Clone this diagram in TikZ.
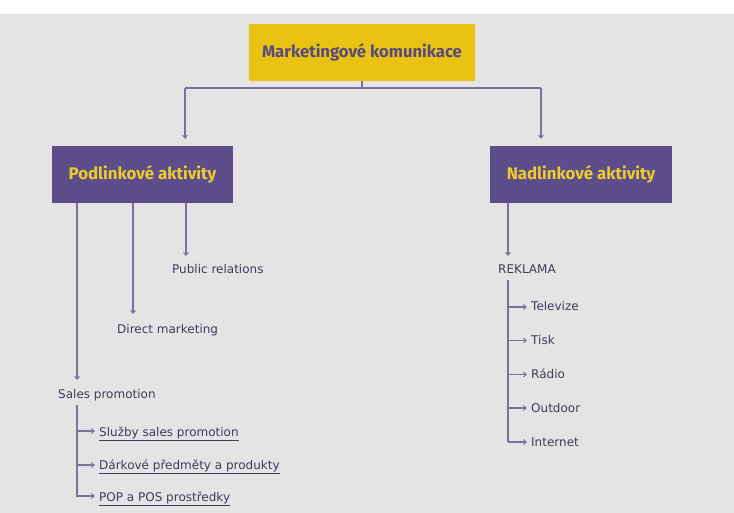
\documentclass[tikz,border=0pt]{standalone}
\usepackage{fontspec}
\setmainfont{DejaVu Sans}
\newfontfamily\headfont{Fira Sans}
\usetikzlibrary{arrows.meta}
\definecolor{bg}{HTML}{E4E4E4}
\definecolor{gold}{HTML}{E8C311}
\definecolor{violet}{HTML}{5E4D8B}
\definecolor{violettext}{HTML}{5A4A7E}
\definecolor{goldtext}{HTML}{EDCB2A}
\definecolor{wire}{HTML}{7D70A0}
\definecolor{labeltext}{HTML}{3E3C5A}
\tikzset{
  topbox/.style={fill=gold, inner sep=0pt, minimum width=226, minimum height=57,
    font=\headfont\bfseries\fontsize{16.7}{20}\selectfont, text=violettext},
  catbox/.style={fill=violet, inner sep=0pt, minimum width=181, minimum height=57,
    font=\headfont\bfseries\fontsize{16.8}{20}\selectfont, text=goldtext},
  lbl/.style={inner sep=0pt, anchor=base west, font=\fontsize{12}{14}\selectfont, text=labeltext},
  wireline/.style={draw=wire, line width=1.2pt},
  arr/.style={wireline, -{Straight Barb[length=3pt, width=5pt, line width=0.9pt]}},
}
\begin{document}
\begin{tikzpicture}[x=1pt, y=-1pt]
  % page
  \fill[white] (0,0) rectangle (734,513);
  \fill[bg] (0,14) rectangle (734,513);
  \useasboundingbox (0,0) rectangle (734,513);

  % boxes
  \node[topbox] (mk) at (362,52.5) {Marketingové komunikace};
  \node[catbox] (pod) at (142.5,174.5) {Podlinkové aktivity};
  \node[catbox, minimum width=182] (nad) at (581,174.5) {Nadlinkové aktivity};

  % top split
  \coordinate (jl) at (185,88);
  \coordinate (jr) at (541,88);
  \draw[wireline] (mk.south) -- (mk.south |- jl);
  \draw[wireline] (jl) -- (jr);
  \draw[arr, shorten >=7pt] (jl) -- (jl |- pod.north);
  \draw[arr, shorten >=7pt] (jr) -- (jr |- nad.north);

  % Podlinkove aktivity children
  \node[lbl] (pr) at (172,274) {Public relations};
  \node[lbl] (dm) at (117,333) {Direct marketing};
  \node[lbl] (sp) at (58,398) {Sales promotion};
  \coordinate (prtip) at (186,256);
  \coordinate (dmtip) at (133,314);
  \coordinate (sptip) at (77,380);
  \draw[arr] (pod.south -| prtip) -- (prtip);
  \draw[arr] (pod.south -| dmtip) -- (dmtip);
  \draw[arr] (pod.south -| sptip) -- (sptip);

  \node[lbl] (sp1) at (99,436) {\underline{Služby sales promotion}};
  \node[lbl] (sp2) at (99,469.5) {\underline{Dárkové předměty a produkty}};
  \node[lbl] (sp3) at (99,501) {\underline{POP a POS prostředky}};
  \coordinate (sptop) at (77,405);
  \draw[wireline] (sptop) -- (sptop |- 0,496) -- ++(8,0);
  \foreach \n/\y in {sp1/431, sp2/465, sp3/496}
    \draw[arr] (77,\y) -- ([xshift=-4pt]\n.west |- 0,\y);

  % Nadlinkove aktivity children
  \node[lbl] (rk) at (498,274) {REKLAMA};
  \coordinate (rktip) at (508,256);
  \draw[arr] (nad.south -| rktip) -- (rktip);

  \node[lbl] (tv) at (531,311) {Televize};
  \node[lbl] (ti) at (531,344.5) {Tisk};
  \node[lbl] (ra) at (531,378.5) {Rádio};
  \node[lbl] (od) at (531,412) {Outdoor};
  \node[lbl] (in) at (531,446) {Internet};
  \coordinate (rkbot) at (508,280);
  \draw[wireline] (rkbot) -- (rkbot |- 0,442);
  \foreach \n/\y in {tv/307, ti/340.5, ra/374.5, od/408, in/442}
    \draw[arr] (508,\y) -- ([xshift=-4pt]\n.west |- 0,\y);
\end{tikzpicture}
\end{document}
